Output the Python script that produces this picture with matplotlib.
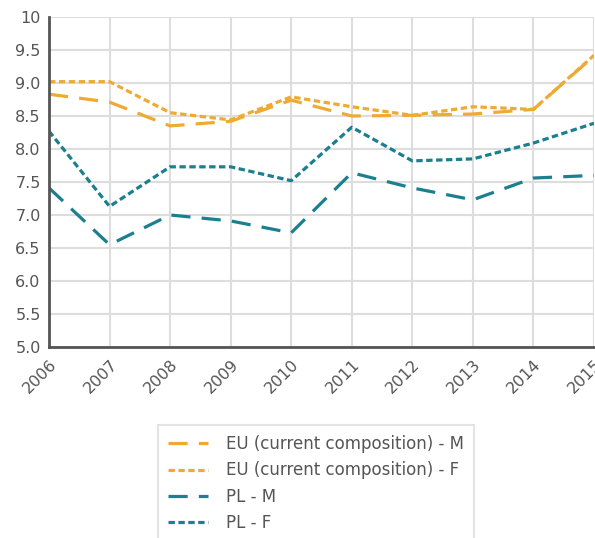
import matplotlib.pyplot as plt

years = [2006, 2007, 2008, 2009, 2010, 2011, 2012, 2013, 2014, 2015]
eu_m = [8.83, 8.71, 8.35, 8.42, 8.74, 8.50, 8.51, 8.53, 8.60, 9.41]
eu_f = [9.02, 9.02, 8.55, 8.44, 8.79, 8.64, 8.51, 8.64, 8.60, 9.42]
pl_m = [7.41, 6.55, 7.00, 6.91, 6.73, 7.64, 7.41, 7.23, 7.56, 7.60]
pl_f = [8.27, 7.13, 7.73, 7.73, 7.52, 8.33, 7.82, 7.85, 8.09, 8.39]

orange = "#EEAA33"
teal = "#1A7F8E"
txt = "#555555"

fig = plt.figure(figsize=(5.95, 5.38), dpi=100)
ax = fig.add_axes([49 / 595, 1 - 347 / 538, 545 / 595, 330 / 538])

ax.plot(years, eu_m, color=orange, lw=2.3, dashes=(6, 3.5), label="EU (current composition) - M")
ax.plot(years, eu_f, color=orange, lw=2.3, dashes=(2, 1.1), label="EU (current composition) - F")
ax.plot(years, pl_m, color=teal, lw=2.3, dashes=(6, 3.5), label="PL - M")
ax.plot(years, pl_f, color=teal, lw=2.3, dashes=(2, 1.1), label="PL - F")

ax.set_xlim(2006, 2015)
ax.set_ylim(5, 10)
ax.set_xticks(years)
ax.set_xticklabels([str(y) for y in years], rotation=45, ha="right",
                   rotation_mode="anchor", color=txt, fontsize=11.5)
ax.set_yticks([5.0, 5.5, 6.0, 6.5, 7.0, 7.5, 8.0, 8.5, 9.0, 9.5, 10])
ax.set_yticklabels(["5.0", "5.5", "6.0", "6.5", "7.0", "7.5", "8.0", "8.5",
                    "9.0", "9.5", "10"], color=txt, fontsize=11.5)
ax.tick_params(axis="y", length=0, pad=6)
ax.tick_params(axis="x", length=0, pad=7)
ax.grid(True, color="#dddddd", lw=1.5)
ax.set_axisbelow(True)
for s in ["top", "right"]:
    ax.spines[s].set_visible(False)
for s in ["left", "bottom"]:
    ax.spines[s].set_color("#555555")
    ax.spines[s].set_linewidth(2)

leg = fig.legend(loc="upper left", bbox_to_anchor=(158 / 595, 1 - 425 / 538),
                 fontsize=12, frameon=True, fancybox=False, handlelength=2.4,
                 labelspacing=0.5, borderpad=0.6, handletextpad=1.1, borderaxespad=0)
leg.get_frame().set_edgecolor("#dddddd")
leg.get_frame().set_linewidth(1.5)
for t in leg.get_texts():
    t.set_color(txt)

fig.savefig("out.png", dpi=100)
